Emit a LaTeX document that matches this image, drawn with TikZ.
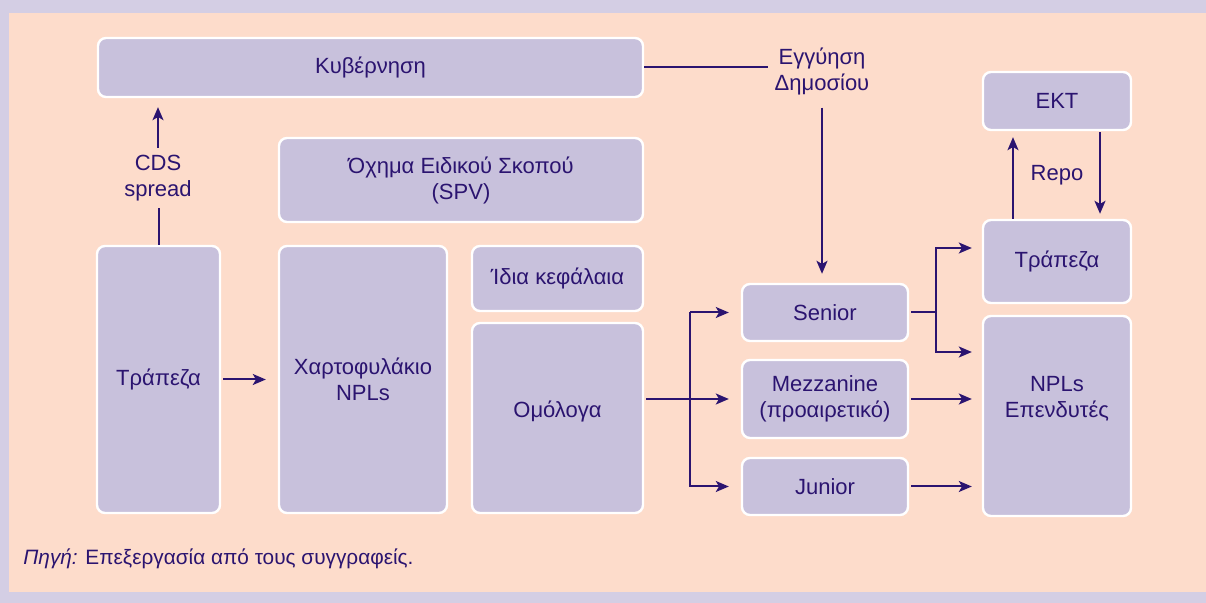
\documentclass[tikz,border=0pt]{standalone}
\usepackage{fontspec}
\setmainfont{Liberation Sans}
\usepackage{xcolor}
\usepackage{tikz}
\usetikzlibrary{arrows.meta}
\definecolor{frame}{HTML}{D4CEE4}
\definecolor{paper}{HTML}{FDDCCB}
\definecolor{boxfill}{HTML}{C8C1DC}
\definecolor{ink}{HTML}{2B1470}
\tikzset{
  Box/.style={
    draw=white, line width=1.2pt,
    fill=boxfill, rounded corners=4pt,
    text=ink, align=center,
    font=\fontsize{11}{13}\selectfont,
    inner sep=0pt
  },
  Label/.style={text=ink, align=center, font=\fontsize{11}{13}\selectfont},
  Flow/.style={draw=ink, line width=1pt},
  FlowArrow/.style={Flow, -{Stealth[length=6.5pt,width=5.5pt,inset=1.6pt]}}
}

\begin{document}
\begin{tikzpicture}[x=0.5pt, y=-0.5pt]
  % frame and paper
  \fill[frame] (0,0) rectangle (1206,603);
  \fill[paper] (9,13) rectangle (1206,592);

  % boxes
  \node[Box, minimum width=272.5pt, minimum height=29.5pt] (gov) at (370.5,67.5) {Κυβέρνηση};
  \node[Box, minimum width=182pt, minimum height=42pt] (spv) at (461,180) {Όχημα Ειδικού Σκοπού\\(SPV)};
  \node[Box, minimum width=61.5pt, minimum height=133.5pt] (bankL) at (158.5,379.5) {Τράπεζα};
  \node[Box, minimum width=84pt, minimum height=133.5pt] (port) at (363,379.5) {Χαρτοφυλάκιο\\NPLs};
  \node[Box, minimum width=85.5pt, minimum height=32.5pt] (equity) at (557.5,278.5) {Ίδια κεφάλαια};
  \node[Box, minimum width=85.5pt, minimum height=95pt,
        label={[Label, yshift=3.5pt]center:Ομόλογα}] (bonds) at (557.5,418) {};
  \node[Box, minimum width=83pt, minimum height=28.5pt] (senior) at (825,312.5) {Senior};
  \node[Box, minimum width=83pt, minimum height=39pt] (mezz) at (825,399) {Mezzanine\\(προαιρετικό)};
  \node[Box, minimum width=83pt, minimum height=28.5pt] (junior) at (825,486.5) {Junior};
  \node[Box, minimum width=74pt, minimum height=29pt] (ecb) at (1057,101) {ΕΚΤ};
  \node[Box, minimum width=74pt, minimum height=41.5pt] (bankR) at (1057,261.5) {Τράπεζα};
  \node[Box, minimum width=74pt, minimum height=100pt,
        label={[Label, yshift=8.5pt]center:NPLs\\Επενδυτές}] (inv) at (1057,416) {};

  % labels on flows
  \node[Label] (cds) at (158,178) {CDS\\spread};
  \node[Label] (guar) at (822,71) {Εγγύηση\\Δημοσίου};
  \node[Label] (repo) at (1057,175) {Repo};

  % junctions
  \coordinate (split) at (690,399);
  \coordinate (fork) at (936,312.5);

  % CDS spread
  \draw[Flow] (bankL.north) -- (bankL.north |- cds.south);
  \draw[FlowArrow, shorten >=4.5pt] (cds.north) -- (cds.north |- gov.south);

  % guarantee
  \draw[Flow] (gov.east) -- (gov.east -| guar.west);
  \draw[FlowArrow, shorten <=3pt, shorten >=4.5pt] (guar.south) -- (guar.south |- senior.north);

  % bank to portfolio
  \draw[FlowArrow, shorten <=1pt, shorten >=6pt] (bankL.east) -- (port.west);

  % tranches
  \draw[Flow, shorten <=1pt] (bonds.east |- split) -- (split);
  \draw[FlowArrow, shorten >=6pt] (split |- senior.west) |- (senior.west);
  \draw[FlowArrow, shorten >=6pt] (split) -- (mezz.west);
  \draw[FlowArrow, shorten >=6pt] (split) |- (junior.west);
  \draw[Flow] (split) -- (split |- senior.west);

  % investors
  \draw[Flow, shorten <=1pt] (senior.east) -- (fork);
  \draw[FlowArrow, shorten >=5pt] (fork) |- (bankR.west |- 0,248);
  \draw[FlowArrow, shorten >=5pt] (fork) |- (inv.west |- 0,352);
  \draw[FlowArrow, shorten <=1pt, shorten >=5pt] (mezz.east) -- (inv.west |- mezz.east);
  \draw[FlowArrow, shorten <=1pt, shorten >=5pt] (junior.east) -- (inv.west |- junior.east);

  % repo
  \draw[FlowArrow, shorten >=3pt] ([xshift=-22pt]bankR.north) -- ([xshift=-22pt]bankR.north |- ecb.south);
  \draw[FlowArrow, shorten <=0.5pt, shorten >=2.5pt] ([xshift=21.5pt]ecb.south) -- ([xshift=21.5pt]ecb.south |- bankR.north);

  % source
  \node[anchor=base west, text=ink, font=\fontsize{10.4}{12}\selectfont, inner sep=0pt] (src) at (23,565)
    {\itshape Πηγή:\upshape{} Επεξεργασία από τους συγγραφείς.};
\end{tikzpicture}
\end{document}
